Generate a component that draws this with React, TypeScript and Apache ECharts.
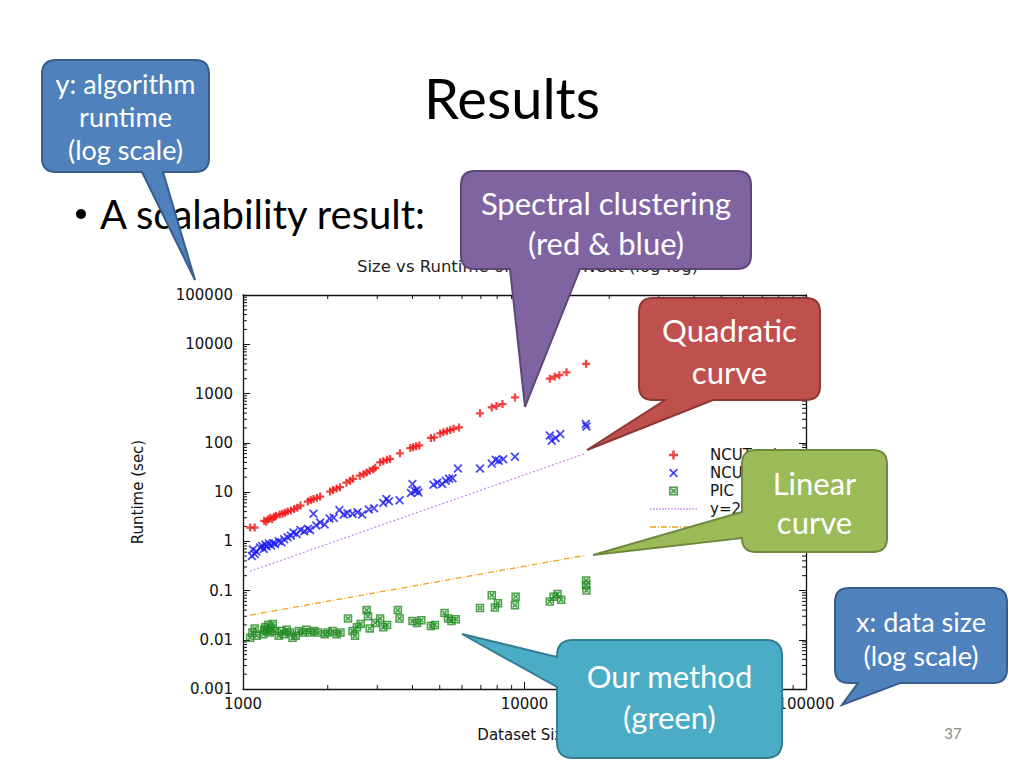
import React, { useEffect, useRef } from "react";
import * as echarts from "echarts";

// ---------- data ----------
const ncutEvd: number[][] = [
  [1060, 1.9], [1100, 1.9], [1190, 2.6], [1210, 2.5], [1230, 2.8], [1250, 3.0], [1270, 2.8], [1290, 3.1],
  [1310, 3.3], [1350, 3.5], [1380, 3.6], [1410, 3.8], [1440, 4.0], [1480, 4.2], [1520, 4.5], [1560, 4.8],
  [1600, 5.3], [1700, 6.4], [1740, 6.9], [1780, 7.2], [1830, 7.6], [1880, 8.1], [2040, 10.2], [2090, 11.0],
  [2150, 11.8], [2210, 12.5], [2330, 15.5], [2400, 17.0], [2460, 18.5], [2600, 21.5], [2680, 23], [2750, 25],
  [2820, 27], [2900, 29], [2950, 31], [3070, 40], [3150, 42], [3250, 45], [3330, 47], [3610, 61], [3930, 78],
  [4020, 81], [4120, 85], [4230, 88], [4650, 125], [4780, 128], [5020, 155], [5150, 163], [5300, 172],
  [5450, 182], [5600, 192], [5850, 205], [6950, 395], [7650, 520], [7950, 560], [8350, 610], [9250, 830],
  [12300, 2000], [12800, 2200], [13300, 2350], [14100, 2700], [16550, 4000],
];

const ncutIram: number[][] = [
  [1075, 0.5], [1085, 0.68], [1100, 0.55], [1115, 0.62], [1150, 0.75], [1170, 0.8], [1185, 0.7], [1200, 0.86],
  [1215, 0.78], [1235, 0.9], [1260, 0.82], [1280, 0.92], [1300, 0.88], [1340, 1.0], [1370, 0.95], [1400, 1.1],
  [1440, 1.2], [1480, 1.3], [1510, 1.5], [1550, 1.4], [1600, 1.7], [1650, 1.6], [1700, 1.8], [1730, 1.7],
  [1780, 3.6], [1820, 2.1], [1880, 2.4], [1950, 2.2], [2030, 2.9], [2100, 3.0], [2200, 4.3], [2280, 3.5],
  [2350, 3.7], [2450, 3.6], [2550, 3.9], [2650, 3.5], [2800, 4.4], [2920, 4.7], [3150, 6.0], [3230, 7.2],
  [3300, 6.5], [3600, 6.8], [3950, 9.5], [4000, 14.5], [4080, 10.5], [4150, 11], [4200, 9.8], [4750, 14],
  [4900, 15.5], [5100, 14.5], [5250, 17], [5400, 18.5], [5550, 19], [5800, 30], [6950, 30], [7650, 38],
  [7900, 45], [8100, 43], [8400, 46], [9250, 52], [12300, 140], [12500, 110], [12900, 125], [13400, 150],
  [16500, 240], [16600, 215],
];

const pic: number[][] = [
  [1060, 0.011], [1080, 0.014], [1100, 0.017], [1120, 0.012], [1180, 0.013], [1190, 0.016], [1200, 0.018],
  [1215, 0.015], [1230, 0.02], [1245, 0.014], [1260, 0.017], [1275, 0.021], [1300, 0.015], [1340, 0.012],
  [1370, 0.015], [1400, 0.013], [1430, 0.016], [1470, 0.014], [1500, 0.011], [1540, 0.012], [1580, 0.015],
  [1630, 0.014], [1680, 0.016], [1730, 0.014], [1790, 0.015], [1850, 0.014], [1950, 0.013], [2000, 0.014],
  [2080, 0.015], [2150, 0.013], [2220, 0.014], [2360, 0.027], [2450, 0.015], [2500, 0.012], [2540, 0.018],
  [2620, 0.021], [2750, 0.04], [2780, 0.03], [2820, 0.017], [2950, 0.022], [3070, 0.027], [3150, 0.018],
  [3250, 0.02], [3550, 0.04], [3600, 0.027], [4000, 0.024], [4150, 0.022], [4300, 0.025], [4650, 0.019],
  [4800, 0.02], [5200, 0.035], [5350, 0.027], [5500, 0.024], [5700, 0.026], [6950, 0.044], [7650, 0.08],
  [7850, 0.045], [8050, 0.055], [9250, 0.05], [9300, 0.075], [12300, 0.06], [12700, 0.075], [13100, 0.085],
  [13500, 0.065], [16550, 0.16], [16550, 0.13], [16600, 0.1],
];

const quadLine: number[][] = [[1058, 0.246], [16540, 61]];
const linLine: number[][] = [[1058, 0.0316], [16540, 0.52]];

const seriesNames = ["NCUTevd", "NCUTiram", "PIC", "y=2e-7x^2", "y=3e-5x"];

const xTickLabels: Record<string, string> = { "3": "1000", "4": "10000", "5": "100000" };
const yTickLabels: Record<string, string> = {
  "-3": "0.001", "-2": "0.01", "-1": "0.1", "0": "1", "1": "10", "2": "100", "3": "1000", "4": "10000", "5": "100000",
};
const minorMantissas = [2, 3, 4, 5, 6, 7, 8, 9];
const xDecades = [1000, 10000];
const yDecades = [0.001, 0.01, 0.1, 1, 10, 100, 1000, 10000];

const xMinorTicks: number[][] = [];
xDecades.forEach((d) => minorMantissas.forEach((m) => xMinorTicks.push([d * m, 1])));
const yMinorTicks: number[][] = [];
yDecades.forEach((d) => minorMantissas.forEach((m) => yMinorTicks.push([2000, d * m])));

// ---------- callout shapes ----------
const D_TL = "M56,60 H195 Q209,60 209,74 V158 Q209,172 195,172 H163 L195,280 L142,172 H56 Q42,172 42,158 V74 Q42,60 56,60 Z";
const D_PU = "M475,171 H737 Q751,171 751,185 V255 Q751,269 737,269 H580 L525,407 L510,269 H475 Q461,269 461,255 V185 Q461,171 475,171 Z";
const D_RE = "M653,298 H806 Q820,298 820,312 V386 Q820,400 806,400 H713 L587,450 L665,400 H653 Q639,400 639,386 V312 Q639,298 653,298 Z";
const D_GR = "M756,450 H873 Q887,450 887,464 V538 Q887,552 873,552 H756 Q742,552 742,538 L593,555 L742,512 V464 Q742,450 756,450 Z";
const D_TE = "M573,640 H766 Q782,640 782,656 V742 Q782,758 766,758 H573 Q557,758 557,742 V687 L462,634 L557,657 V656 Q557,640 573,640 Z";
const D_BR = "M849,588 H993 Q1007,588 1007,602 V669 Q1007,683 993,683 H900 L842,705 L858,683 H849 Q835,683 835,669 V602 Q835,588 849,588 Z";

echarts.graphic.registerShape("calloutTL", echarts.graphic.extendPath(D_TL, {}));
echarts.graphic.registerShape("calloutPU", echarts.graphic.extendPath(D_PU, {}));
echarts.graphic.registerShape("calloutRE", echarts.graphic.extendPath(D_RE, {}));
echarts.graphic.registerShape("calloutGR", echarts.graphic.extendPath(D_GR, {}));
echarts.graphic.registerShape("calloutTE", echarts.graphic.extendPath(D_TE, {}));
echarts.graphic.registerShape("calloutBR", echarts.graphic.extendPath(D_BR, {}));

const PLUS = "path://M3.6,0H6.4V3.6H10V6.4H6.4V10H3.6V6.4H0V3.6H3.6Z";
const CROSS = "path://M1.4,0L5,3.6L8.6,0L10,1.4L6.4,5L10,8.6L8.6,10L5,6.4L1.4,10L0,8.6L3.6,5L0,1.4Z";
const BOXX =
  "path://M0,0H10V10H0Z M1.8,1.8V8.2H8.2V1.8Z M1.8,3.2L3.2,1.8L5,3.6L6.8,1.8L8.2,3.2L6.4,5L8.2,6.8L6.8,8.2L5,6.4L3.2,8.2L1.8,6.8L3.6,5Z";

// legend samples for the two reference lines (dotted / dash-dot), as filled segment paths
function segPath(segs: number[][], h: number) {
  return "path://" + segs.map(([a, b]) => `M${a},0H${b}V${h}H${a}Z`).join(" ");
}
const DOT_SEGS: number[][] = [];
for (let s = 0; s <= 45; s += 3) DOT_SEGS.push([s, s + 1.6]);
const DASHDOT_SEGS: number[][] = [
  [0, 6], [8, 9.2], [11, 17], [19, 20.2], [22, 28], [30, 31.2], [33, 39], [41, 42.2], [44, 47],
];
const QUAD_ICON = segPath(DOT_SEGS, 1.4);
const LIN_ICON = segPath(DASHDOT_SEGS, 1.4);

const AXIS_FONT = "DejaVu Sans";
const SLIDE_FONT = "Lato";

function calloutText(lines: string[], cx: number, ys: number[], size: number) {
  return lines.map((t, i) => ({
    type: "text",
    z: 101,
    style: {
      text: t,
      x: cx,
      y: ys[i],
      fill: "#ffffff",
      fontSize: size,
      fontFamily: SLIDE_FONT,
      textAlign: "center",
      textVerticalAlign: "middle",
      verticalAlign: "middle",
    },
  }));
}

function shape(type: string, fill: string, stroke: string) {
  return { type, z: 100, x: 0, y: 0, style: { fill, stroke, lineWidth: 2 } };
}

export default function App() {
  const ref = useRef<HTMLDivElement>(null);

  useEffect(() => {
    if (!ref.current) return;
    const chart = echarts.init(ref.current, null, { renderer: "svg" });

    const axisLineStyle = { color: "#111", width: 1.3 };
    const baseX = {
      type: "log",
      logBase: 10,
      min: 1000,
      max: 100000,
      splitNumber: 2,
      axisLine: { show: true, onZero: false, lineStyle: axisLineStyle },
      axisTick: { show: true, inside: true, length: 7, lineStyle: { color: "#111", width: 1 } },
      splitLine: { show: false },
      minorTick: { show: false },
    };
    const baseY = {
      type: "log",
      logBase: 10,
      min: 0.001,
      max: 100000,
      splitNumber: 8,
      axisLine: { show: true, onZero: false, lineStyle: axisLineStyle },
      axisTick: { show: true, inside: true, length: 7, lineStyle: { color: "#111", width: 1 } },
      splitLine: { show: false },
      minorTick: { show: false },
    };

    const minorTickRender = (isX: boolean) => (params: any, api: any) => {
      const v = isX ? api.value(0) : api.value(1);
      const lineStyle = { stroke: "#111", lineWidth: 1 };
      if (isX) {
        const a = api.coord([v, 0.001]);
        const b = api.coord([v, 100000]);
        return {
          type: "group",
          children: [
            { type: "line", shape: { x1: a[0], y1: a[1], x2: a[0], y2: a[1] - 4 }, style: lineStyle },
            { type: "line", shape: { x1: b[0], y1: b[1], x2: b[0], y2: b[1] + 4 }, style: lineStyle },
          ],
        };
      }
      const a = api.coord([1000, v]);
      const b = api.coord([100000, v]);
      return {
        type: "group",
        children: [
          { type: "line", shape: { x1: a[0], y1: a[1], x2: a[0] + 4, y2: a[1] }, style: lineStyle },
          { type: "line", shape: { x1: b[0], y1: b[1], x2: b[0] - 4, y2: b[1] }, style: lineStyle },
        ],
      };
    };

    const option: any = {
      animation: false,
      backgroundColor: "#ffffff",
      title: {
        text: "Size vs Runtime of PIC and NCut (log-log)",
        left: 357,
        top: 258,
        padding: 0,
        textStyle: { fontFamily: AXIS_FONT, fontSize: 16.5, fontWeight: "normal", color: "#222" },
      },
      grid: { left: 243, top: 295, width: 563, height: 394, containLabel: false },
      legend: {
        show: true,
        orient: "vertical",
        left: 650,
        top: 446,
        itemWidth: 47,
        itemHeight: 9,
        itemGap: 0,
        padding: 0,
        symbolKeepAspect: true,
        data: [
          { name: seriesNames[0] },
          { name: seriesNames[1] },
          { name: seriesNames[2] },
          { name: seriesNames[3], icon: QUAD_ICON, itemStyle: { color: "#c98ce8" } },
          { name: seriesNames[4], icon: LIN_ICON, itemStyle: { color: "#f2a31c" } },
        ],
        textStyle: { fontFamily: AXIS_FONT, fontSize: 15, color: "#111", lineHeight: 18, padding: [0, 0, 0, 8] },
      },
      xAxis: [
        {
          ...baseX,
          position: "bottom",
          name: "Dataset Size",
          nameLocation: "middle",
          nameGap: 38,
          nameTextStyle: { fontFamily: AXIS_FONT, fontSize: 15, color: "#111" },
          axisLabel: {
            show: true,
            margin: 7,
            fontFamily: AXIS_FONT,
            fontSize: 15,
            color: "#111",
            formatter: (v: number) => xTickLabels[String(Math.round(Math.log10(v)))] ?? "",
          },
        },
        { ...baseX, position: "top", axisLabel: { show: false } },
      ],
      yAxis: [
        {
          ...baseY,
          position: "left",
          name: "Runtime (sec)",
          nameLocation: "middle",
          nameRotate: 90,
          nameGap: 98,
          nameTextStyle: { fontFamily: AXIS_FONT, fontSize: 15, color: "#111" },
          axisLabel: {
            show: true,
            margin: 10,
            fontFamily: AXIS_FONT,
            fontSize: 15,
            color: "#111",
            formatter: (v: number) => yTickLabels[String(Math.round(Math.log10(v)))] ?? "",
          },
        },
        { ...baseY, position: "right", axisLabel: { show: false } },
      ],
      series: [
        {
          name: seriesNames[0],
          type: "scatter",
          data: ncutEvd,
          symbol: PLUS,
          symbolSize: 8,
          itemStyle: { color: "#f01515" },
        },
        {
          name: seriesNames[1],
          type: "scatter",
          data: ncutIram,
          symbol: CROSS,
          symbolSize: 9,
          itemStyle: { color: "#1a1aee" },
        },
        {
          name: seriesNames[2],
          type: "scatter",
          data: pic,
          symbol: BOXX,
          symbolSize: 8.5,
          itemStyle: { color: "#1f8a1f" },
        },
        {
          name: seriesNames[3],
          type: "line",
          data: quadLine,
          showSymbol: false,
          symbol: "none",
          itemStyle: { color: "#c98ce8" },
          lineStyle: { color: "#c98ce8", width: 1.3, type: [2, 2] },
        },
        {
          name: seriesNames[4],
          type: "line",
          data: linLine,
          showSymbol: false,
          symbol: "none",
          itemStyle: { color: "#f2a31c" },
          lineStyle: { color: "#f2a31c", width: 1.3, type: [6, 2, 1, 2] },
        },
        {
          type: "custom",
          data: xMinorTicks,
          renderItem: minorTickRender(true),
          silent: true,
          clip: false,
        },
        {
          type: "custom",
          data: yMinorTicks,
          renderItem: minorTickRender(false),
          silent: true,
          clip: false,
        },
      ],
      graphic: [
        {
          type: "text",
          z: 50,
          style: {
            text: "Results",
            x: 512,
            y: 97,
            fill: "#000",
            fontSize: 56,
            fontFamily: SLIDE_FONT,
            textAlign: "center",
            textVerticalAlign: "middle",
            verticalAlign: "middle",
          },
        },
        {
          type: "circle",
          z: 50,
          shape: { cx: 81, cy: 214, r: 5 },
          style: { fill: "#000" },
        },
        {
          type: "text",
          z: 50,
          style: {
            text: "A scalability result:",
            x: 100,
            y: 214,
            fill: "#000",
            fontSize: 40,
            fontFamily: SLIDE_FONT,
            textAlign: "left",
            textVerticalAlign: "middle",
            verticalAlign: "middle",
          },
        },
        {
          type: "text",
          z: 50,
          style: {
            text: "37",
            x: 953,
            y: 733,
            fill: "#8b8b8b",
            fontSize: 15,
            fontFamily: SLIDE_FONT,
            textAlign: "center",
            textVerticalAlign: "middle",
            verticalAlign: "middle",
          },
        },
        shape("calloutTL", "#4f81bd", "#385d8a"),
        ...calloutText(["y: algorithm", "runtime", "(log scale)"], 125.5, [83, 116, 149], 27),
        shape("calloutPU", "#8064a2", "#5c4776"),
        ...calloutText(["Spectral clustering", "(red & blue)"], 606, [203, 243], 31),
        shape("calloutRE", "#c0504d", "#8c3836"),
        ...calloutText(["Quadratic", "curve"], 729.5, [330, 372], 31),
        shape("calloutGR", "#9bbb59", "#71893f"),
        ...calloutText(["Linear", "curve"], 814.5, [483, 522], 31),
        shape("calloutTE", "#4bacc6", "#357d91"),
        ...calloutText(["Our method", "(green)"], 669.5, [676, 717], 31),
        shape("calloutBR", "#4f81bd", "#385d8a"),
        ...calloutText(["x: data size", "(log scale)"], 921, [621, 655], 27),
      ],
    };

    chart.setOption(option);
    return () => chart.dispose();
  }, []);

  return (
    <div
      ref={ref}
      style={{ position: "fixed", left: 0, top: 0, width: 1024, height: 768, background: "#fff" }}
    />
  );
}
